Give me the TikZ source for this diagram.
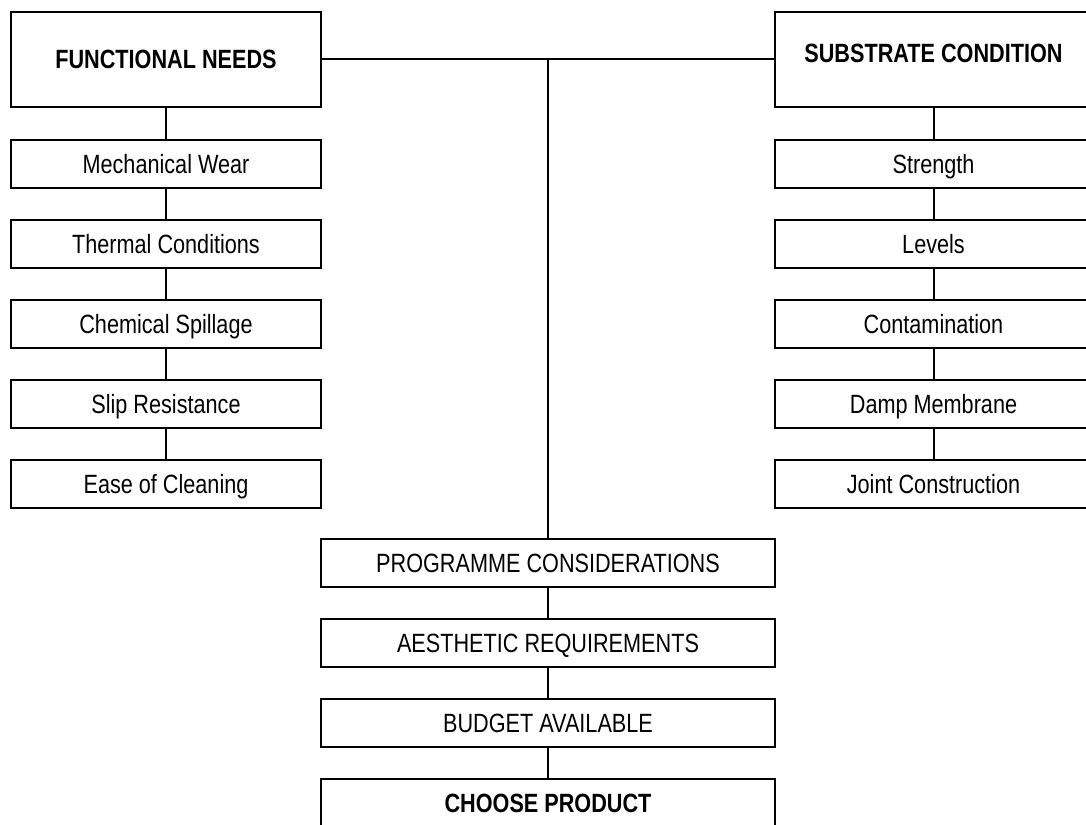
\documentclass[tikz,border=0pt]{standalone}
\usepackage{fontspec}
\setmainfont[FakeStretch=0.82]{Liberation Sans}
\begin{document}
\begin{tikzpicture}[x=1pt,y=-1pt,
  every node/.style={font=\fontsize{26.4}{30}\selectfont},
  box/.style={draw=black, line width=2pt, rectangle, inner sep=0pt, text height=18.9pt, text depth=0pt, minimum height=47.7pt},
  bigbox/.style={box, minimum height=95.6pt},
  lcol/.style={minimum width=310.5pt},
  rcol/.style={minimum width=317pt},
  ccol/.style={minimum width=454pt},
  link/.style={draw=black, line width=2pt}
]
\useasboundingbox (0,0) rectangle (1086,824);
% left column
\node[bigbox,lcol] (fn) at (166,59.5) {\textbf{FUNCTIONAL NEEDS}};
\node[box,lcol] (l1) at (166,164) {Mechanical Wear};
\node[box,lcol] (l2) at (166,244) {Thermal Conditions};
\node[box,lcol] (l3) at (166,324) {Chemical Spillage};
\node[box,lcol] (l4) at (166,404) {Slip Resistance};
\node[box,lcol] (l5) at (166,484) {Ease of Cleaning};
% right column
\node[bigbox,rcol] (sc) at (933.5,59.5) {\raisebox{6.5pt}[\height][\depth]{\textbf{SUBSTRATE CONDITION}}};
\node[box,rcol] (r1) at (933.5,164) {Strength};
\node[box,rcol] (r2) at (933.5,244) {Levels};
\node[box,rcol] (r3) at (933.5,324) {Contamination};
\node[box,rcol] (r4) at (933.5,404) {Damp Membrane};
\node[box,rcol] (r5) at (933.5,484) {Joint Construction};
% centre column
\node[box,ccol] (c1) at (548,563) {PROGRAMME CONSIDERATIONS};
\node[box,ccol] (c2) at (548,643) {AESTHETIC REQUIREMENTS};
\node[box,ccol] (c3) at (548,723) {BUDGET AVAILABLE};
\node[box,ccol] (c4) at (548,803) {\textbf{CHOOSE PRODUCT}};
% connectors
\draw[link] (fn) -- (l1);
\draw[link] (l1) -- (l2);
\draw[link] (l2) -- (l3);
\draw[link] (l3) -- (l4);
\draw[link] (l4) -- (l5);
\draw[link] (sc) -- (r1);
\draw[link] (r1) -- (r2);
\draw[link] (r2) -- (r3);
\draw[link] (r3) -- (r4);
\draw[link] (r4) -- (r5);
\draw[link] (fn.east) -- (sc.west);
\coordinate (j) at (fn.east -| c1.north);
\draw[link] (j) -- (c1.north);
\draw[link] (c1) -- (c2);
\draw[link] (c2) -- (c3);
\draw[link] (c3) -- (c4);
\end{tikzpicture}
\end{document}
